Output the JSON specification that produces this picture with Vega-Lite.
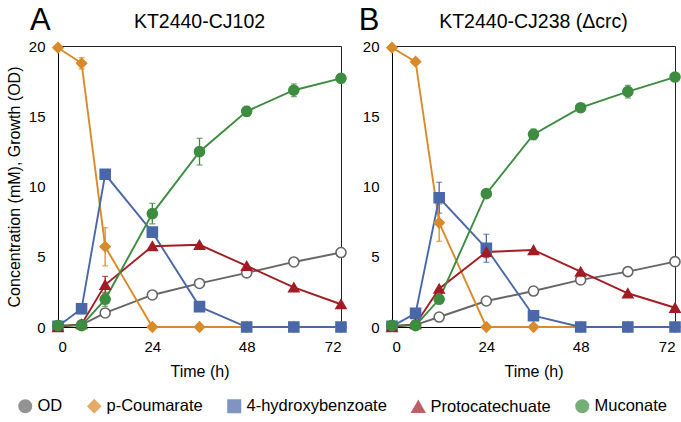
{
  "$schema": "https://vega.github.io/schema/vega-lite/v6.json",
  "background": "white",
  "padding": {"left": 5, "top": 4, "right": 5, "bottom": 2},
  "datasets": {
    "d": [
      {"p":"A","s":"OD","t":0,"v":0.1},{"p":"A","s":"OD","t":6,"v":0.15},{"p":"A","s":"OD","t":12,"v":1.0},{"p":"A","s":"OD","t":24,"v":2.28},{"p":"A","s":"OD","t":36,"v":3.1},{"p":"A","s":"OD","t":48,"v":3.85},{"p":"A","s":"OD","t":60,"v":4.63},{"p":"A","s":"OD","t":72,"v":5.3,"lo":5.0,"hi":5.6},
      {"p":"A","s":"p-Coumarate","t":0,"v":19.88},{"p":"A","s":"p-Coumarate","t":6,"v":18.77,"lo":18.37,"hi":19.17},{"p":"A","s":"p-Coumarate","t":12,"v":5.72,"lo":4.35,"hi":7.07},{"p":"A","s":"p-Coumarate","t":24,"v":0},{"p":"A","s":"p-Coumarate","t":36,"v":0},{"p":"A","s":"p-Coumarate","t":48,"v":0},{"p":"A","s":"p-Coumarate","t":60,"v":0},{"p":"A","s":"p-Coumarate","t":72,"v":0},
      {"p":"A","s":"4-hydroxybenzoate","t":0,"v":0.05},{"p":"A","s":"4-hydroxybenzoate","t":6,"v":1.3,"lo":0.95,"hi":1.65},{"p":"A","s":"4-hydroxybenzoate","t":12,"v":10.87,"lo":10.62,"hi":11.12},{"p":"A","s":"4-hydroxybenzoate","t":24,"v":6.75},{"p":"A","s":"4-hydroxybenzoate","t":36,"v":1.45},{"p":"A","s":"4-hydroxybenzoate","t":48,"v":0},{"p":"A","s":"4-hydroxybenzoate","t":60,"v":0},{"p":"A","s":"4-hydroxybenzoate","t":72,"v":0},
      {"p":"A","s":"Protocatechuate","t":0,"v":0},{"p":"A","s":"Protocatechuate","t":6,"v":0.2},{"p":"A","s":"Protocatechuate","t":12,"v":3.0,"lo":2.4,"hi":3.6},{"p":"A","s":"Protocatechuate","t":24,"v":5.75},{"p":"A","s":"Protocatechuate","t":36,"v":5.85},{"p":"A","s":"Protocatechuate","t":48,"v":4.35},{"p":"A","s":"Protocatechuate","t":60,"v":2.82},{"p":"A","s":"Protocatechuate","t":72,"v":1.62},
      {"p":"A","s":"Muconate","t":0,"v":0.1},{"p":"A","s":"Muconate","t":6,"v":0.1},{"p":"A","s":"Muconate","t":12,"v":1.97,"lo":1.47,"hi":2.47},{"p":"A","s":"Muconate","t":24,"v":8.07,"lo":7.34,"hi":8.8},{"p":"A","s":"Muconate","t":36,"v":12.48,"lo":11.53,"hi":13.43},{"p":"A","s":"Muconate","t":48,"v":15.35,"lo":15.0,"hi":15.7},{"p":"A","s":"Muconate","t":60,"v":16.85,"lo":16.4,"hi":17.3},{"p":"A","s":"Muconate","t":72,"v":17.7,"lo":17.5,"hi":17.9},
      {"p":"B","s":"OD","t":0,"v":0.1},{"p":"B","s":"OD","t":6,"v":0.15},{"p":"B","s":"OD","t":12,"v":0.71},{"p":"B","s":"OD","t":24,"v":1.85},{"p":"B","s":"OD","t":36,"v":2.56},{"p":"B","s":"OD","t":48,"v":3.35},{"p":"B","s":"OD","t":60,"v":3.94},{"p":"B","s":"OD","t":72,"v":4.65},
      {"p":"B","s":"p-Coumarate","t":0,"v":19.88},{"p":"B","s":"p-Coumarate","t":6,"v":18.88,"lo":18.7,"hi":19.06},{"p":"B","s":"p-Coumarate","t":12,"v":7.42,"lo":6.1,"hi":8.74},{"p":"B","s":"p-Coumarate","t":24,"v":0},{"p":"B","s":"p-Coumarate","t":36,"v":0},{"p":"B","s":"p-Coumarate","t":48,"v":0},{"p":"B","s":"p-Coumarate","t":60,"v":0},{"p":"B","s":"p-Coumarate","t":72,"v":0},
      {"p":"B","s":"4-hydroxybenzoate","t":0,"v":0.05},{"p":"B","s":"4-hydroxybenzoate","t":6,"v":0.97},{"p":"B","s":"4-hydroxybenzoate","t":12,"v":9.2,"lo":8.1,"hi":10.3},{"p":"B","s":"4-hydroxybenzoate","t":24,"v":5.6,"lo":4.6,"hi":6.6},{"p":"B","s":"4-hydroxybenzoate","t":36,"v":0.8},{"p":"B","s":"4-hydroxybenzoate","t":48,"v":0},{"p":"B","s":"4-hydroxybenzoate","t":60,"v":0},{"p":"B","s":"4-hydroxybenzoate","t":72,"v":0},
      {"p":"B","s":"Protocatechuate","t":0,"v":0},{"p":"B","s":"Protocatechuate","t":6,"v":0.2},{"p":"B","s":"Protocatechuate","t":12,"v":2.73},{"p":"B","s":"Protocatechuate","t":24,"v":5.34,"lo":4.94,"hi":5.74},{"p":"B","s":"Protocatechuate","t":36,"v":5.48},{"p":"B","s":"Protocatechuate","t":48,"v":3.94},{"p":"B","s":"Protocatechuate","t":60,"v":2.4},{"p":"B","s":"Protocatechuate","t":72,"v":1.37},
      {"p":"B","s":"Muconate","t":0,"v":0.1},{"p":"B","s":"Muconate","t":6,"v":0.1},{"p":"B","s":"Muconate","t":12,"v":1.97},{"p":"B","s":"Muconate","t":24,"v":9.49},{"p":"B","s":"Muconate","t":36,"v":13.71,"lo":13.33,"hi":14.09},{"p":"B","s":"Muconate","t":48,"v":15.61},{"p":"B","s":"Muconate","t":60,"v":16.75,"lo":16.3,"hi":17.2},{"p":"B","s":"Muconate","t":72,"v":17.79}
    ],
    "labA": [{"lab":"A"}],
    "labB": [{"lab":"B"}]
  },
  "config": {
    "font": "Liberation Sans",
    "view": {"stroke": "#222", "strokeWidth": 1},
    "axis": {"grid": false, "ticks": false, "domainColor": "#000", "labelFontSize": 15, "labelColor": "#000", "titleFontSize": 16, "titleFontWeight": "normal", "titleColor": "#000"},
    "axisX": {"labelPadding": 12, "titlePadding": 9},
    "axisY": {"labelPadding": 13, "titlePadding": 6},
    "title": {"fontSize": 19.5, "fontWeight": "normal", "color": "#000", "offset": -28},
    "legend": {"labelFontSize": 16.5, "labelColor": "#000"},
    "concat": {"spacing": 8}
  },
  "hconcat": [
    {
      "width": 283, "height": 281,
      "title": {"text": "KT2440-CJ102"},
      "layer": [
        {
          "data": {"name": "d"},
          "transform": [{"filter": "datum.p == 'A' && isValid(datum.hi)"}],
          "mark": {"type": "errorbar", "ticks": {"size": 6}, "thickness": 1.3},
          "encoding": {
            "x": {"field": "t", "type": "quantitative", "title": "Time (h)"},
            "y": {"field": "lo", "type": "quantitative", "title": "Concentration (mM), Growth (OD)"},
            "y2": {"field": "hi"},
            "color": {"field": "s", "type": "nominal", "title": null}
          }
        },
        {
          "data": {"name": "d"},
          "transform": [{"filter": "datum.p == 'A'"}],
          "mark": {"type": "line", "strokeWidth": 1.9},
          "encoding": {
            "x": {"field": "t", "type": "quantitative", "title": "Time (h)", "scale": {"domain": [0, 72], "nice": false}, "axis": {"values": [0, 24, 48, 72]}},
            "y": {"field": "v", "type": "quantitative", "title": "Concentration (mM), Growth (OD)", "scale": {"domain": [0, 20], "nice": false}, "axis": {"values": [0, 5, 10, 15, 20]}},
            "color": {"field": "s", "type": "nominal", "title": null},
            "detail": {"field": "s"}
          }
        },
        {
          "data": {"name": "d"},
          "transform": [{"filter": "datum.p == 'A'"}],
          "mark": {"type": "point", "filled": false, "size": 100, "strokeWidth": 1.6, "opacity": 1},
          "encoding": {
            "x": {"field": "t", "type": "quantitative"},
            "y": {"field": "v", "type": "quantitative"},
            "color": {"field": "s", "type": "nominal", "title": null,
              "scale": {"domain": ["OD", "p-Coumarate", "4-hydroxybenzoate", "Protocatechuate", "Muconate"], "range": ["#666666", "#d98a2b", "#4a68a8", "#a31c24", "#3d8c40"]},
              "legend": {"orient": "none", "legendX": -41, "legendY": 352, "direction": "horizontal", "columnPadding": 21, "symbolSize": 150, "symbolStrokeWidth": 1.8, "symbolOpacity": 1, "labelOffset": 4, "labelFontSize": 16.5}},
            "fill": {"field": "s", "type": "nominal", "title": null,
              "scale": {"domain": ["OD", "p-Coumarate", "4-hydroxybenzoate", "Protocatechuate", "Muconate"], "range": ["#ffffff", "#d98a2b", "#4a68a8", "#a31c24", "#3d8c40"]}},
            "shape": {"field": "s", "type": "nominal", "title": null,
              "scale": {"domain": ["OD", "p-Coumarate", "4-hydroxybenzoate", "Protocatechuate", "Muconate"], "range": ["circle", "diamond", "square", "triangle-up", "circle"]}}
          }
        },
        {
          "data": {"name": "labA"},
          "mark": {"type": "text", "fontSize": 31, "align": "center", "baseline": "middle", "color": "#000"},
          "encoding": {
            "x": {"datum": -4.5, "type": "quantitative"},
            "y": {"datum": 21.8, "type": "quantitative"},
            "text": {"field": "lab"}
          }
        }
      ]
    },
    {
      "width": 283, "height": 281,
      "title": {"text": "KT2440-CJ238 (Δcrc)"},
      "layer": [
        {
          "data": {"name": "d"},
          "transform": [{"filter": "datum.p == 'B' && isValid(datum.hi)"}],
          "mark": {"type": "errorbar", "ticks": {"size": 6}, "thickness": 1.3},
          "encoding": {
            "x": {"field": "t", "type": "quantitative", "title": "Time (h)"},
            "y": {"field": "lo", "type": "quantitative", "title": null},
            "y2": {"field": "hi"},
            "color": {"field": "s", "type": "nominal", "title": null}
          }
        },
        {
          "data": {"name": "d"},
          "transform": [{"filter": "datum.p == 'B'"}],
          "mark": {"type": "line", "strokeWidth": 1.9},
          "encoding": {
            "x": {"field": "t", "type": "quantitative", "title": "Time (h)", "scale": {"domain": [0, 72], "nice": false}, "axis": {"values": [0, 24, 48, 72]}},
            "y": {"field": "v", "type": "quantitative", "title": null, "scale": {"domain": [0, 20], "nice": false}, "axis": {"values": [0, 5, 10, 15, 20]}},
            "color": {"field": "s", "type": "nominal", "title": null},
            "detail": {"field": "s"}
          }
        },
        {
          "data": {"name": "d"},
          "transform": [{"filter": "datum.p == 'B'"}],
          "mark": {"type": "point", "filled": false, "size": 100, "strokeWidth": 1.6, "opacity": 1},
          "encoding": {
            "x": {"field": "t", "type": "quantitative"},
            "y": {"field": "v", "type": "quantitative"},
            "color": {"field": "s", "type": "nominal", "title": null},
            "fill": {"field": "s", "type": "nominal", "title": null},
            "shape": {"field": "s", "type": "nominal", "title": null}
          }
        },
        {
          "data": {"name": "labB"},
          "mark": {"type": "text", "fontSize": 31, "align": "center", "baseline": "middle", "color": "#000"},
          "encoding": {
            "x": {"datum": -5.85, "type": "quantitative"},
            "y": {"datum": 21.8, "type": "quantitative"},
            "text": {"field": "lab"}
          }
        }
      ]
    }
  ],
  "resolve": {"scale": {"color": "shared", "fill": "shared", "shape": "shared"}}
}
